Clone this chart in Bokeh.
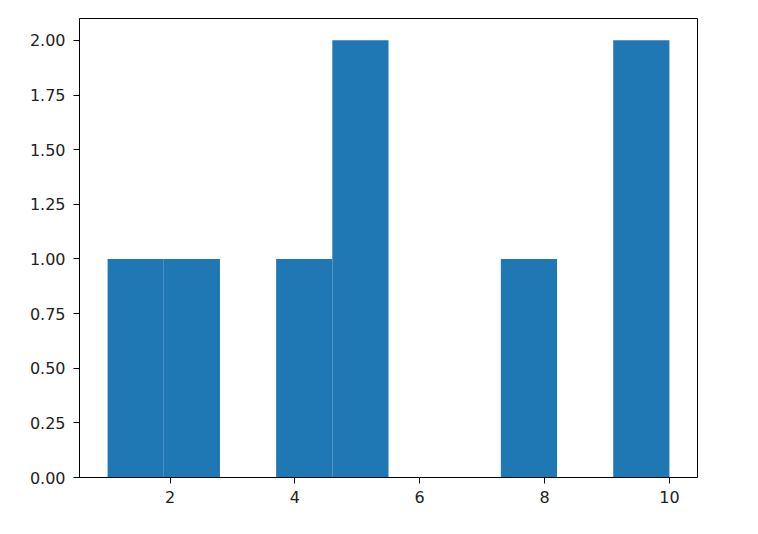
from bokeh.plotting import figure
from bokeh.embed import file_html
from bokeh.resources import INLINE
from bokeh.models import FixedTicker, Range1d, CustomJSTickFormatter

bin_edges = [1.0, 1.9, 2.8, 3.7, 4.6, 5.5, 6.4, 7.3, 8.2, 9.1, 10.0]
counts = [1, 1, 0, 1, 2, 0, 0, 1, 0, 2]
x_ticks = [2, 4, 6, 8, 10]
y_ticks = [0.0, 0.25, 0.5, 0.75, 1.0, 1.25, 1.5, 1.75, 2.0]

p = figure(width=742, height=518, output_backend="svg", toolbar_location=None,
           x_range=Range1d(0.55, 10.45), y_range=Range1d(0, 2.1),
           min_border_left=79, min_border_right=45, min_border_top=18, min_border_bottom=41)

p.quad(left=bin_edges[:-1], right=bin_edges[1:], bottom=0, top=counts,
       fill_color="#1f77b4", line_color=None)

p.xgrid.visible = False
p.ygrid.visible = False
p.outline_line_color = "black"
p.outline_line_width = 1

for ax in (p.xaxis, p.yaxis):
    ax.major_label_text_font = "DejaVu Sans"
    ax.major_label_text_font_size = "16px"
    ax.major_label_text_color = "#222222"
    ax.axis_line_color = "black"
    ax.major_tick_line_color = "black"
    ax.major_tick_out = 6
    ax.major_tick_in = 0
    ax.minor_tick_line_color = None

p.xaxis.ticker = FixedTicker(ticks=x_ticks)
p.yaxis.ticker = FixedTicker(ticks=y_ticks)
p.yaxis.formatter = CustomJSTickFormatter(code="return tick.toFixed(2);")
p.xaxis.major_label_standoff = 7
p.yaxis.major_label_standoff = 8

open("out.html", "w").write(file_html(p, INLINE))
